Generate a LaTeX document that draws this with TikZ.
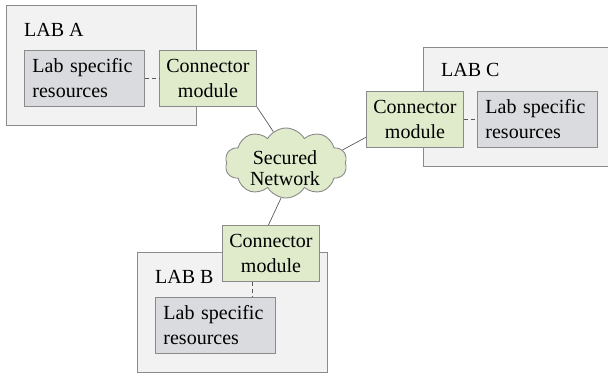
\documentclass[tikz,border=0pt]{standalone}
\usepackage{fontspec}
\setmainfont{Liberation Serif}
\usetikzlibrary{shapes.symbols,calc}
\definecolor{labfill}{HTML}{F2F2F2}
\definecolor{resfill}{HTML}{DADBDE}
\definecolor{conn}{HTML}{DFEBCB}
\definecolor{bord}{HTML}{8A8A8A}
\definecolor{linec}{HTML}{5A5A5A}
\tikzset{
  labbox/.style={draw=bord, fill=labfill, line width=0.9pt},
  resbox/.style={draw=bord, fill=resfill, line width=0.9pt, minimum width=120pt, minimum height=56pt, inner sep=0pt, align=left, font=\fontsize{20}{25}\selectfont, text width=104pt},
  connbox/.style={draw=bord, fill=conn, line width=0.9pt, minimum width=97pt, minimum height=56pt, inner sep=0pt, align=center, font=\fontsize{20}{25}\selectfont},
  lablabel/.style={anchor=west, inner sep=0pt, font=\fontsize{20}{24}\selectfont},
  link/.style={draw=linec, line width=0.7pt},
  dlink/.style={draw=linec, line width=0.7pt, dash pattern=on 4pt off 3pt}
}
\begin{document}
\begin{tikzpicture}[x=1pt,y=-1pt]
\useasboundingbox (0,0) rectangle (608,374);
\clip (0,0) rectangle (608,374);
% lab boxes
\node[labbox, minimum width=190pt, minimum height=120pt, anchor=north west, inner sep=0pt] (labA) at (6,5) {};
\node[labbox, minimum width=200pt, minimum height=119pt, anchor=north west, inner sep=0pt] (labC) at (423,47) {};
\node[labbox, minimum width=190pt, minimum height=120pt, anchor=north west, inner sep=0pt] (labB) at (137,252) {};
\node[lablabel] (tA) at (24,30) {LAB A};
\node[lablabel] (tC) at (441,70) {LAB C};
\node[lablabel] (tB) at (155,277) {LAB B};
% resources
\node[resbox, anchor=north west] (rA) at (24,50) {Lab specific\\resources};
\node[resbox, anchor=north west] (rC) at (477,91) {Lab specific\\resources};
\node[resbox, anchor=north west] (rB) at (155,297) {Lab specific\\resources};
% connectors
\node[connbox, anchor=north west] (cA) at (159,50) {Connector\\module};
\node[connbox, anchor=north west] (cC) at (366,91) {Connector\\module};
\node[connbox, anchor=north west] (cB) at (222,225) {Connector\\module};
% cloud
\node[cloud, cloud puffs=10, cloud puff arc=120, cloud ignores aspect, draw=bord, fill=conn, line width=0.9pt,
      minimum width=122pt, minimum height=70pt, inner sep=0pt] (net) at (286,163) {};
\node[align=center, inner sep=0pt, font=\fontsize{20}{21}\selectfont] (netlabel) at (285,168) {Secured\\Network};
% links
\draw[link] (cA.south east) -- (net.112);
\draw[link] (net.13) -- (cC.200);
\draw[link] (net.262) -- (cB.95);
\draw[dlink] (rA.east) -- (cA.west);
\draw[dlink] (cC.west -| cC.east) -- (rC.west);
\coordinate (bx) at ($(cB.south west)!0.31!(cB.south east)$);
\draw[dlink] (bx) -- (bx |- rB.north);
\end{tikzpicture}
\end{document}
